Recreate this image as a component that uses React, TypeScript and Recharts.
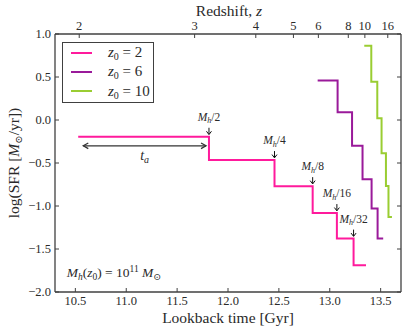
import React from 'react';
import { LineChart, Line, XAxis, YAxis, ReferenceDot, ReferenceLine, Legend } from 'recharts';

const FONT = '"Liberation Serif", "DejaVu Serif", serif';
const AX = '#404040';
const TXT = '#2a2a2a';

// axes
const lookbackTicks = [10.5, 11.0, 11.5, 12.0, 12.5, 13.0, 13.5];
const sfrTicks = [-2.0, -1.5, -1.0, -0.5, 0.0, 0.5, 1.0];
const redshiftLabels = ['2', '3', '4', '5', '6', '8', '10', '16'];
const redshiftLookback = [10.538, 11.672, 12.273, 12.643, 12.888, 13.182, 13.345, 13.57];

// series (lookback time [Gyr], log SFR)
const seriesNames = ['2', '6', '10'];
const seriesColors = ['#ff1a9c', '#9a1a9a', '#9acd32'];
const z2Time = [10.528, 11.813, 12.457, 12.832, 13.07, 13.234, 13.356];
const z2Sfr = [-0.195, -0.466, -0.769, -1.082, -1.379, -1.69, -1.69];
const z6Time = [12.881, 13.077, 13.219, 13.322, 13.411, 13.47, 13.525];
const z6Sfr = [0.458, 0.089, -0.3, -0.688, -1.03, -1.379, -1.379];
const z10Time = [13.339, 13.408, 13.467, 13.509, 13.552, 13.577, 13.611];
const z10Sfr = [0.864, 0.446, 0.02, -0.388, -0.766, -1.127, -1.127];

// annotations
const massFractions = ['2', '4', '8', '16', '32'];
const taStart = 10.578;
const taEnd = 11.784;
const taLevel = -0.3;
const noteTime = 10.415;
const noteSfr = -1.826;

const toRows = (t: number[], v: number[]) => t.map((x, i) => ({ t: x, v: v[i] }));
const seriesData = [toRows(z2Time, z2Sfr), toRows(z6Time, z6Sfr), toRows(z10Time, z10Sfr)];

const fmtY = (v: number) => (v < 0 ? '\u2212' : '') + Math.abs(v).toFixed(1);

const BottomTick = (p: any) => (
  <g>
    <line x1={p.x} x2={p.x} y1={p.y} y2={p.y - 4} stroke={AX} strokeWidth={1} />
    <text x={p.x} y={p.y + 13} textAnchor="middle" fontFamily={FONT} fontSize={12.5} fill={TXT}>
      {Number(p.payload.value).toFixed(1)}
    </text>
  </g>
);

const TopTick = (p: any) => {
  let idx = 0;
  let best = Infinity;
  redshiftLookback.forEach((v, i) => {
    const d = Math.abs(v - p.payload.value);
    if (d < best) {
      best = d;
      idx = i;
    }
  });
  return (
    <g>
      <line x1={p.x} x2={p.x} y1={p.y} y2={p.y + 4} stroke={AX} strokeWidth={1} />
      <text x={p.x} y={p.y - 4} textAnchor="middle" fontFamily={FONT} fontSize={12.5} fill={TXT}>
        {redshiftLabels[idx]}
      </text>
    </g>
  );
};

const LeftTick = (p: any) => (
  <g>
    <line x1={p.x} x2={p.x + 4} y1={p.y} y2={p.y} stroke={AX} strokeWidth={1} />
    <text x={p.x - 4} y={p.y + 4} textAnchor="end" fontFamily={FONT} fontSize={12.5} fill={TXT}>
      {fmtY(p.payload.value)}
    </text>
  </g>
);

const RightTick = (p: any) => (
  <line x1={p.x} x2={p.x - 4} y1={p.y} y2={p.y} stroke={AX} strokeWidth={1} />
);

const MassArrow = (p: any) => {
  const { cx, cy, label } = p;
  return (
    <g>
      <line x1={cx} x2={cx} y1={cy - 9} y2={cy - 2.5} stroke="#111" strokeWidth={1} />
      <path d={`M${cx - 2.5},${cy - 5.5} L${cx},${cy - 2.2} L${cx + 2.5},${cy - 5.5}`} fill="none" stroke="#111" strokeWidth={1} />
      <text x={cx} y={cy - 16} textAnchor="middle" fontFamily={FONT} fontSize={11.5} fill={TXT}>
        <tspan fontStyle="italic">M</tspan>
        <tspan fontStyle="italic" fontSize={8} dy={2.5}>h</tspan>
        <tspan dy={-2.5}>/{label}</tspan>
      </text>
    </g>
  );
};

const TaArrow = (p: any) => {
  const { x1, y1, x2, y2 } = p;
  const mx = (x1 + x2) / 2;
  return (
    <g>
      <line x1={x1} y1={y1} x2={x2} y2={y2} stroke="#333" strokeWidth={1.3} />
      <path d={`M${x1 + 5},${y1 - 2.8} L${x1},${y1} L${x1 + 5},${y1 + 2.8}`} fill="none" stroke="#333" strokeWidth={1.3} />
      <path d={`M${x2 - 5},${y2 - 2.8} L${x2},${y2} L${x2 - 5},${y2 + 2.8}`} fill="none" stroke="#333" strokeWidth={1.3} />
      <text x={mx} y={y1 + 14} textAnchor="middle" fontFamily={FONT} fontSize={14} fill={TXT}>
        <tspan fontStyle="italic">t</tspan>
        <tspan fontStyle="italic" fontSize={10} dy={3}>a</tspan>
      </text>
    </g>
  );
};

const NoteText = (p: any) => {
  const { cx, cy } = p;
  return (
    <text x={cx} y={cy} fontFamily={FONT} fontSize={13.5} fill={TXT}>
      <tspan fontStyle="italic">M</tspan>
      <tspan fontStyle="italic" fontSize={9.5} dy={3}>h</tspan>
      <tspan dy={-3}>(</tspan>
      <tspan fontStyle="italic">z</tspan>
      <tspan fontSize={9.5} dy={3}>0</tspan>
      <tspan dy={-3}>) = 10</tspan>
      <tspan fontSize={9.5} dy={-5}>11</tspan>
      <tspan dy={5} fontStyle="italic"> M</tspan>
      <tspan fontSize={9.5} dy={3}>⊙</tspan>
    </text>
  );
};

const LegendBox = (props: any) => {
  const raw = (props.payload || []).filter((e: any) => seriesNames.includes(String(e.value)));
  const payload = seriesNames.map((n) => raw.find((e: any) => String(e.value) === n)).filter(Boolean);
  return (
    <div
      style={{
        width: 92,
        height: 61,
        boxSizing: 'border-box',
        border: `1.3px solid ${AX}`,
        background: '#fff',
        position: 'relative',
        fontFamily: FONT,
        color: TXT,
      }}
    >
      {payload.map((e: any, i: number) => (
        <div key={i} style={{ position: 'absolute', left: 0, top: i * 19.4, width: '100%', height: 19.4 }}>
          <div style={{ position: 'absolute', left: 8, top: 8.5, width: 21, height: 2, background: e.color }} />
          <div style={{ position: 'absolute', left: 45, top: 0, fontSize: 15, lineHeight: '19.4px', whiteSpace: 'nowrap' }}>
            <i>z</i>
            <span style={{ fontSize: 10, position: 'relative', top: 3 }}>0</span> = {e.value}
          </div>
        </div>
      ))}
    </div>
  );
};

const titleStyle: React.CSSProperties = {
  position: 'absolute',
  fontFamily: FONT,
  fontSize: 15.5,
  lineHeight: '16px',
  color: TXT,
  textAlign: 'center',
  whiteSpace: 'nowrap',
  pointerEvents: 'none',
};

export default function App() {
  return (
    <div style={{ position: 'absolute', left: 0, top: 0, width: 407, height: 332, background: '#fff' }}>
      <LineChart width={407} height={332} margin={{ top: 0, right: 0, bottom: 0, left: 0 }}>
        <XAxis
          dataKey="t"
          type="number"
          domain={[10.3, 13.7]}
          allowDataOverflow
          ticks={lookbackTicks}
          interval={0}
          tickSize={0}
          tickMargin={0}
          tick={(p: any) => <BottomTick {...p} />}
          axisLine={{ stroke: AX, strokeWidth: 1.3 }}
          height={40}
        />
        <XAxis
          xAxisId="top"
          dataKey="t"
          orientation="top"
          type="number"
          domain={[10.3, 13.7]}
          allowDataOverflow
          ticks={redshiftLookback}
          interval={0}
          tickSize={0}
          tickMargin={0}
          tick={(p: any) => <TopTick {...p} />}
          axisLine={{ stroke: AX, strokeWidth: 1.3 }}
          height={34}
        />
        <YAxis
          type="number"
          domain={[-2, 1]}
          allowDataOverflow
          ticks={sfrTicks}
          interval={0}
          tickSize={0}
          tickMargin={0}
          tick={(p: any) => <LeftTick {...p} />}
          axisLine={{ stroke: AX, strokeWidth: 1.3 }}
          width={55}
        />
        <YAxis
          yAxisId="right"
          orientation="right"
          type="number"
          domain={[-2, 1]}
          allowDataOverflow
          ticks={sfrTicks}
          interval={0}
          tickSize={0}
          tickMargin={0}
          tick={(p: any) => <RightTick {...p} />}
          axisLine={{ stroke: AX, strokeWidth: 1.3 }}
          width={6}
        />
        {seriesData.map((d, i) => (
          <Line
            key={seriesNames[i]}
            data={d}
            dataKey="v"
            name={seriesNames[i]}
            type="stepAfter"
            stroke={seriesColors[i]}
            strokeWidth={2}
            dot={false}
            activeDot={false}
            isAnimationActive={false}
          />
        ))}
        <Line
          xAxisId="top"
          yAxisId="right"
          data={seriesData[0]}
          dataKey="v"
          name="axis-anchor"
          stroke="none"
          strokeWidth={0}
          legendType="none"
          dot={false}
          activeDot={false}
          isAnimationActive={false}
        />
        {massFractions.map((m, i) => (
          <ReferenceDot
            key={m}
            x={z2Time[i + 1]}
            y={z2Sfr[i]}
            r={0}
            shape={(p: any) => <MassArrow {...p} label={m} />}
          />
        ))}
        <ReferenceLine
          segment={[
            { x: taStart, y: taLevel },
            { x: taEnd, y: taLevel },
          ]}
          shape={(p: any) => <TaArrow {...p} />}
        />
        <ReferenceDot x={noteTime} y={noteSfr} r={0} shape={(p: any) => <NoteText {...p} />} />
        <Legend
          layout="vertical"
          align="center"
          verticalAlign="middle"
          wrapperStyle={{ position: 'absolute', left: 62, top: 42, width: 92, height: 61 }}
          content={(p: any) => <LegendBox {...p} />}
        />
      </LineChart>
      <div style={{ ...titleStyle, left: 128, width: 200, top: 310 }}>Lookback time [Gyr]</div>
      <div style={{ ...titleStyle, left: 129, width: 200, top: 2.5 }}>
        Redshift, <i>z</i>
      </div>
      <div
        style={{
          ...titleStyle,
          left: 14 - 100,
          width: 200,
          top: 163 - 8,
          height: 16,
          transform: 'rotate(-90deg)',
        }}
      >
        log(SFR [<i>M</i>
        <span style={{ fontSize: 10, position: 'relative', top: 3 }}>⊙</span>/yr])
      </div>
    </div>
  );
}
